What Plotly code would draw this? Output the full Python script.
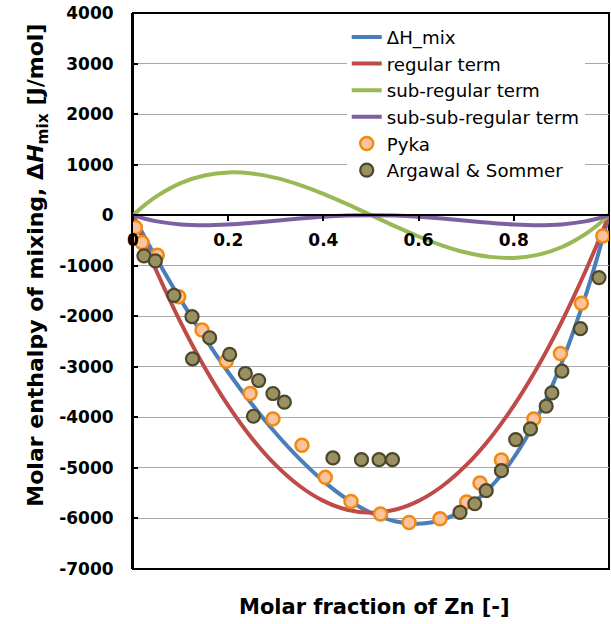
import plotly.graph_objects as go

# ---------------- data ----------------
x_curve = [0, 0.025, 0.05, 0.1, 0.15, 0.2, 0.25, 0.3, 0.35, 0.4, 0.45, 0.5,
           0.55, 0.6, 0.65, 0.7, 0.75, 0.8, 0.85, 0.9, 0.95, 0.975, 1]
dh_mix = [0, -440, -866, -1670, -2418, -3107, -3741, -4315, -4823, -5261, -5619, -5888,
          -6055, -6105, -6025, -5793, -5391, -4797, -3988, -2938, -1618, -848, 0]
regular = [0, -574, -1119, -2120, -3003, -3768, -4416, -4946, -5358, -5652, -5829, -5888,
           -5829, -5652, -5358, -4946, -4416, -3768, -3003, -2120, -1119, -574, 0]
sub_regular = [0, 204, 376, 634, 785, 845, 825, 739, 601, 422, 218, 0,
               -218, -422, -601, -739, -825, -845, -785, -634, -376, -204, 0]
sub_sub_regular = [0, -70, -123, -184, -200, -184, -150, -108, -66, -31, -8, 0,
                   -8, -31, -66, -108, -150, -184, -200, -184, -123, -70, 0]

pyka_x = [0.005, 0.019, 0.051, 0.096, 0.145, 0.196, 0.246, 0.294, 0.355, 0.404, 0.458,
          0.520, 0.580, 0.645, 0.701, 0.729, 0.774, 0.842, 0.898, 0.942, 0.987]
pyka_y = [-244, -541, -793, -1612, -2273, -2888, -3528, -4030, -4553, -5187, -5663,
          -5913, -6079, -6006, -5675, -5299, -4843, -4030, -2735, -1744, -410]

arg_x = [0.023, 0.047, 0.086, 0.124, 0.125, 0.161, 0.203, 0.236, 0.253, 0.264, 0.294,
         0.318, 0.420, 0.480, 0.517, 0.545, 0.687, 0.718, 0.742, 0.774, 0.804, 0.835,
         0.868, 0.880, 0.901, 0.940, 0.979]
arg_y = [-806, -905, -1586, -2008, -2841, -2425, -2755, -3132, -3978, -3271, -3528,
         -3700, -4803, -4837, -4837, -4837, -5881, -5709, -5451, -5055, -4440, -4228,
         -3780, -3515, -3086, -2246, -1235]

y_ticks = [-7000, -6000, -5000, -4000, -3000, -2000, -1000, 0, 1000, 2000, 3000, 4000]
y_tick_text = ["-7000", "-6000", "-5000", "-4000", "-3000", "-2000", "-1000",
               "0", "1000", "2000", "3000", "4000"]
x_ticks = [0, 0.2, 0.4, 0.6, 0.8]
x_tick_text = ["0", "0.2", "0.4", "0.6", "0.8"]

# ---------------- figure ----------------
FONT = "DejaVu Sans"
fig = go.Figure()

line_series = [
    ("ΔH_mix", dh_mix, "#4A7EBB"),
    ("regular term", regular, "#BE4B48"),
    ("sub-regular term", sub_regular, "#98B954"),
    ("sub-sub-regular term", sub_sub_regular, "#7D60A0"),
]
for name, ys, col in line_series:
    fig.add_trace(go.Scatter(x=x_curve, y=ys, mode="lines", name=name,
                             line=dict(color=col, width=4, shape="spline", smoothing=1.0)))

fig.add_trace(go.Scatter(x=pyka_x, y=pyka_y, mode="markers", name="Pyka",
                         marker=dict(size=13, color="#FCC39C",
                                     line=dict(color="#F08A12", width=2.5))))
fig.add_trace(go.Scatter(x=arg_x, y=arg_y, mode="markers", name="Argawal & Sommer",
                         marker=dict(size=13, color="#9A9062",
                                     line=dict(color="#4B472B", width=2.2))))

fig.update_layout(
    width=611, height=624,
    margin=dict(l=133, r=2, t=13, b=55),
    paper_bgcolor="white", plot_bgcolor="white",
    font=dict(family=FONT, color="black"),
    showlegend=True,
    legend=dict(x=0.449, y=0.99, xanchor="left", yanchor="top",
                bgcolor="white", font=dict(family=FONT, size=18.2, color="black"),
                tracegroupgap=0),
    xaxis=dict(range=[0, 1], anchor="free", position=7 / 11,
               tickvals=x_ticks, ticktext=x_tick_text,
               showline=True, linecolor="black", linewidth=2,
               ticks="outside", ticklen=5, tickwidth=2, tickcolor="black",
               ticklabelstandoff=4,
               showgrid=False, zeroline=False,
               tickfont=dict(family=FONT, size=17, weight="bold", color="black")),
    yaxis=dict(range=[-7000, 4000], tickvals=y_ticks, ticktext=y_tick_text,
               showgrid=True, gridcolor="#A8A8A8", gridwidth=1,
               showline=True, linecolor="black", linewidth=2,
               ticks="inside", ticklen=5, tickwidth=2, tickcolor="black",
               ticklabelstandoff=14,
               zeroline=False,
               tickfont=dict(family=FONT, size=17, weight="bold", color="black")),
    shapes=[dict(type="rect", xref="paper", yref="paper", x0=0, x1=1, y0=0, y1=1,
                 line=dict(color="black", width=2), layer="between")],
    annotations=[
        dict(text="Molar fraction of Zn [-]", xref="paper", yref="paper",
             x=0.508, y=-0.068, xanchor="center", yanchor="middle", showarrow=False,
             font=dict(family=FONT, size=21, weight="bold", color="black")),
        dict(text="Molar enthalpy of mixing, Δ<i>H</i><sub>mix</sub> [J/mol]",
             xref="paper", yref="paper", x=-0.2, y=0.547, textangle=-90,
             xanchor="center", yanchor="middle", showarrow=False,
             font=dict(family=FONT, size=22, weight="bold", color="black")),
    ],
)

fig.write_html("out.html")
